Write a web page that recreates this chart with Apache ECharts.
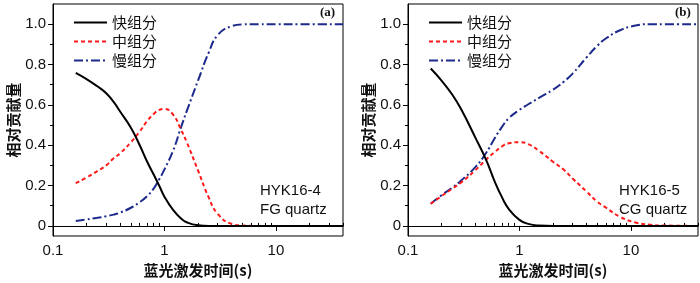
<!DOCTYPE html>
<html>
<head>
<meta charset="utf-8">
<script src="https://cdn.jsdelivr.net/npm/echarts@6/dist/echarts.min.js"></script>
<style>
  html, body { margin: 0; padding: 0; background: #fff; }
  #chart { width: 700px; height: 283px; }
</style>
</head>
<body>
<div id="chart"></div>
<script>
  // panel (a) HYK16-4 FG quartz
  var xA = [0.16, 0.2, 0.25, 0.3, 0.35, 0.4, 0.5, 0.6, 0.7, 0.8, 0.9, 1.0, 1.2, 1.4, 1.6, 2.0, 2.5, 3.0, 4.0, 5.0, 7.0, 10, 20, 40];
  var fastA = [0.759, 0.728, 0.692, 0.658, 0.615, 0.567, 0.487, 0.40, 0.318, 0.255, 0.198, 0.145, 0.078, 0.038, 0.017, 0.003, 0, 0, 0, 0, 0, 0, 0, 0];
  var midA = [0.212, 0.24, 0.272, 0.30, 0.335, 0.36, 0.415, 0.468, 0.52, 0.555, 0.575, 0.58, 0.55, 0.48, 0.41, 0.275, 0.14, 0.06, 0.01, 0.002, 0, 0, 0, 0];
  var slowA = [0.024, 0.032, 0.04, 0.048, 0.056, 0.066, 0.09, 0.118, 0.148, 0.185, 0.232, 0.28, 0.375, 0.485, 0.575, 0.72, 0.86, 0.945, 0.99, 0.999, 1, 1, 1, 1];

  // panel (b) HYK16-5 CG quartz
  var xB = [0.16, 0.2, 0.25, 0.3, 0.4, 0.5, 0.6, 0.7, 0.8, 1.0, 1.2, 1.5, 2, 2.5, 3, 4, 5, 6, 8, 11, 15, 20, 40];
  var fastB = [0.78, 0.72, 0.65, 0.578, 0.44, 0.33, 0.22, 0.14, 0.085, 0.03, 0.01, 0.002, 0, 0, 0, 0, 0, 0, 0, 0, 0, 0, 0];
  var midB = [0.11, 0.148, 0.185, 0.215, 0.275, 0.328, 0.366, 0.395, 0.41, 0.415, 0.405, 0.372, 0.318, 0.278, 0.235, 0.17, 0.12, 0.09, 0.045, 0.017, 0.006, 0.002, 0];
  var slowB = [0.11, 0.152, 0.19, 0.225, 0.29, 0.36, 0.435, 0.492, 0.533, 0.575, 0.603, 0.635, 0.675, 0.715, 0.755, 0.835, 0.893, 0.93, 0.97, 0.993, 1, 1, 1];

  var names = ['快组分', '中组分', '慢组分'];
  var yTicks = [0, 0.2, 0.4, 0.6, 0.8, 1.0];
  var yMinor = [0.1, 0.3, 0.5, 0.7, 0.9];
  var xTicks = [0.1, 1, 10];
  var xMinor = [0.2, 0.3, 0.4, 0.5, 0.6, 0.7, 0.8, 0.9, 2, 3, 4, 5, 6, 7, 8, 9, 20, 30, 40];

  var cjk = '"Noto Sans CJK SC"';
  var latin = '"Liberation Sans", Arial';

  function pairs(xs, ys) {
    return xs.map(function (x, i) { return [x, ys[i]]; });
  }

  function xMain(g) {
    return {
      type: 'log', gridIndex: g, min: 0.1, max: 40, logBase: 10,
      name: '蓝光激发时间(s)', nameLocation: 'middle', nameGap: 27,
      nameTextStyle: { fontFamily: cjk, fontSize: 15, color: '#111', fontWeight: 'bold' },
      axisLine: { lineStyle: { color: '#000', width: 1 } },
      axisTick: { inside: false, length: 5, customValues: xTicks, lineStyle: { color: '#000' } },
      axisLabel: { customValues: xTicks, margin: 7, fontFamily: latin, fontSize: 15, color: '#111' },
      splitLine: { show: false }
    };
  }
  function xSub(g) {
    return {
      type: 'log', gridIndex: g, min: 0.1, max: 40, logBase: 10,
      axisLine: { show: false },
      axisTick: { inside: false, length: 3, customValues: xMinor, lineStyle: { color: '#000' } },
      axisLabel: { show: false },
      splitLine: { show: false }
    };
  }
  function yMain(g) {
    return {
      type: 'value', gridIndex: g, position: 'left', min: -0.05, max: 1.1,
      name: '相对贡献量', nameLocation: 'middle', nameGap: 30,
      nameTextStyle: { fontFamily: cjk, fontSize: 15, color: '#111', fontWeight: 'bold' },
      axisLine: { show: true, lineStyle: { color: '#000', width: 1 } },
      axisTick: { show: true, inside: false, length: 5, customValues: yTicks, lineStyle: { color: '#000' } },
      axisLabel: {
        customValues: yTicks, margin: 7, fontFamily: latin, fontSize: 15, color: '#111',
        formatter: function (v) { return v === 0 ? '0' : v.toFixed(1); }
      },
      splitLine: { show: false }
    };
  }
  function ySub(g) {
    return {
      type: 'value', gridIndex: g, position: 'left', min: -0.05, max: 1.1,
      axisLine: { show: false },
      axisTick: { show: true, inside: false, length: 3, customValues: yMinor, lineStyle: { color: '#000' } },
      axisLabel: { show: false },
      splitLine: { show: false }
    };
  }

  var styles = [
    { color: '#000000', type: 'solid', width: 2 },
    { color: '#ff1a1a', type: [4, 3], width: 2 },
    { color: '#1c2a8c', type: [9, 3, 2, 3], width: 2 }
  ];

  function makeSeries(g, xs, sets) {
    return sets.map(function (ys, i) {
      return {
        name: names[i], type: 'line', xAxisIndex: g * 2, yAxisIndex: g * 2,
        data: pairs(xs, ys), symbol: 'none', smooth: 0.5,
        lineStyle: styles[i], itemStyle: { color: styles[i].color }, z: 3 - i
      };
    });
  }

  function legend(left) {
    return {
      data: names, orient: 'vertical', left: left, top: 10,
      itemWidth: 33, itemHeight: 14, itemGap: 4,
      itemStyle: { opacity: 0 },
      textStyle: { fontFamily: cjk, fontSize: 15, color: '#111' }
    };
  }

  function txt(x, y, s, font, align) {
    return { type: 'text', left: x, top: y, style: { text: s, font: font, fill: '#111', textAlign: align || 'left' } };
  }

  var chart = echarts.init(document.getElementById('chart'), null, { renderer: 'canvas' });
  chart.setOption({
    animation: false,
    backgroundColor: '#fff',
    grid: [
      { left: 53, top: 4, width: 290, height: 235, show: true, borderColor: '#000', borderWidth: 1, backgroundColor: 'transparent' },
      { left: 408, top: 4, width: 290, height: 235, show: true, borderColor: '#000', borderWidth: 1, backgroundColor: 'transparent' }
    ],
    xAxis: [xMain(0), xSub(0), xMain(1), xSub(1)],
    yAxis: [yMain(0), ySub(0), yMain(1), ySub(1)],
    legend: [legend(68), legend(423)],
    series: makeSeries(0, xA, [fastA, midA, slowA]).concat(makeSeries(1, xB, [fastB, midB, slowB])),
    graphic: [
      txt(320, 6, '(a)', 'bold 13px "Liberation Serif"'),
      txt(675, 6, '(b)', 'bold 13px "Liberation Serif"'),
      txt(260, 183, 'HYK16-4', '15px "Liberation Sans"'),
      txt(260, 202, 'FG quartz', '15px "Liberation Sans"'),
      txt(619, 183, 'HYK16-5', '15px "Liberation Sans"'),
      txt(619, 202, 'CG quartz', '15px "Liberation Sans"')
    ]
  });
</script>
</body>
</html>
